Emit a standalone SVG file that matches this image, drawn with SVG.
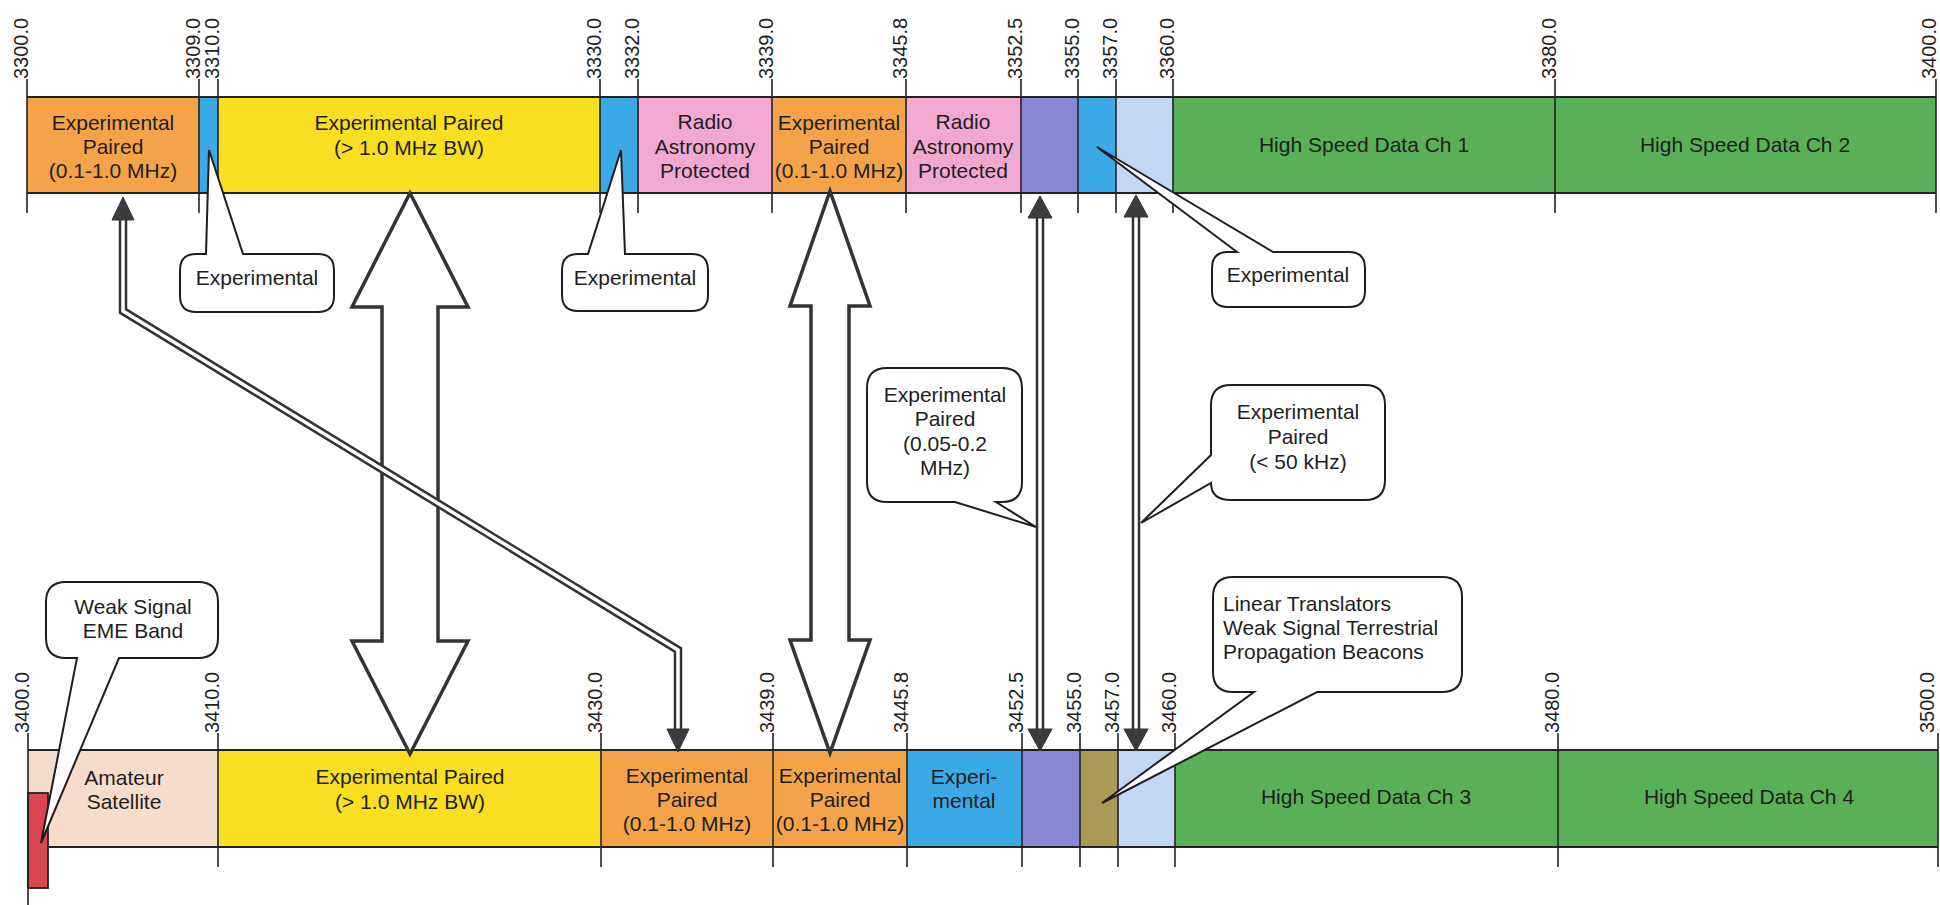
<svg xmlns="http://www.w3.org/2000/svg" width="1940" height="905" viewBox="0 0 1940 905">
<style>
text{font-family:"Liberation Sans",Arial,sans-serif;fill:#1e1e1e}
.lbl{font-size:21px;text-anchor:middle}
.lbll{font-size:21px;text-anchor:start}
.tk{font-size:20px}
.tick{stroke:#222;stroke-width:1.6;fill:none}
.edge{stroke:#222;stroke-width:2.2;fill:none}
.or{fill:#F4A349}.ye{fill:#F8DF22}.bl{fill:#3BA9E6}.pk{fill:#F1A9D0}
.pw{fill:#8887D4}.lb{fill:#C2D7F4}.gr{fill:#5AAF59}.pc{fill:#F6DCCB}.ol{fill:#A99A56}
.bub{fill:#fff;stroke:#1e1e1e;stroke-width:2}
.blk{fill:#fff;stroke:#333;stroke-width:3.5;stroke-linejoin:miter}
.dl-o{fill:none;stroke:#333;stroke-width:8.5;stroke-linejoin:miter}
.dl-i{fill:none;stroke:#fff;stroke-width:3.5;stroke-linejoin:miter}
.head{fill:#3c3c3c;stroke:#333;stroke-width:1}
</style>

<g id="band-top">
<rect class="or" x="27" y="97" width="172" height="96"/>
<rect class="bl" x="199" y="97" width="19" height="96"/>
<rect class="ye" x="218" y="97" width="382" height="96"/>
<rect class="bl" x="600" y="97" width="38" height="96"/>
<rect class="pk" x="638" y="97" width="134" height="96"/>
<rect class="or" x="772" y="97" width="134" height="96"/>
<rect class="pk" x="906" y="97" width="115" height="96"/>
<rect class="pw" x="1021" y="97" width="57" height="96"/>
<rect class="bl" x="1078" y="97" width="38" height="96"/>
<rect class="lb" x="1116" y="97" width="57" height="96"/>
<rect class="gr" x="1173" y="97" width="382" height="96"/>
<rect class="gr" x="1555" y="97" width="381" height="96"/>
<line class="edge" x1="27" y1="97" x2="1936" y2="97"/>
<line class="edge" x1="27" y1="193" x2="1936" y2="193"/>
<text class="lbl" x="113" y="130">Experimental</text>
<text class="lbl" x="113" y="154">Paired</text>
<text class="lbl" x="113" y="178">(0.1-1.0 MHz)</text>
<text class="lbl" x="409" y="130">Experimental Paired</text>
<text class="lbl" x="409" y="155">(&gt; 1.0 MHz BW)</text>
<text class="lbl" x="705" y="129">Radio</text>
<text class="lbl" x="705" y="154">Astronomy</text>
<text class="lbl" x="705" y="178">Protected</text>
<text class="lbl" x="839" y="130">Experimental</text>
<text class="lbl" x="839" y="154">Paired</text>
<text class="lbl" x="839" y="178">(0.1-1.0 MHz)</text>
<text class="lbl" x="963" y="129">Radio</text>
<text class="lbl" x="963" y="154">Astronomy</text>
<text class="lbl" x="963" y="178">Protected</text>
<text class="lbl" x="1364" y="152">High Speed Data Ch 1</text>
<text class="lbl" x="1745" y="152">High Speed Data Ch 2</text>
</g>

<g id="ticks-top">
<path class="tick" d="M27,79V213M199,79V213M218,79V213M600,79V213M638,79V213M772,79V213M906,79V213M1021,79V213M1078,79V213M1116,79V213M1173,79V213M1555,79V213M1936,79V213"/>
<text class="tk" transform="translate(28,79) rotate(-90)">3300.0</text>
<text class="tk" transform="translate(200,79) rotate(-90)">3309.0</text>
<text class="tk" transform="translate(219,79) rotate(-90)">3310.0</text>
<text class="tk" transform="translate(601,79) rotate(-90)">3330.0</text>
<text class="tk" transform="translate(639,79) rotate(-90)">3332.0</text>
<text class="tk" transform="translate(773,79) rotate(-90)">3339.0</text>
<text class="tk" transform="translate(907,79) rotate(-90)">3345.8</text>
<text class="tk" transform="translate(1022,79) rotate(-90)">3352.5</text>
<text class="tk" transform="translate(1079,79) rotate(-90)">3355.0</text>
<text class="tk" transform="translate(1117,79) rotate(-90)">3357.0</text>
<text class="tk" transform="translate(1174,79) rotate(-90)">3360.0</text>
<text class="tk" transform="translate(1556,79) rotate(-90)">3380.0</text>
<text class="tk" transform="translate(1936,79) rotate(-90)">3400.0</text>
</g>

<g id="band-bottom">
<rect class="pc" x="28" y="750" width="190" height="97"/>
<rect class="ye" x="218" y="750" width="383" height="97"/>
<rect class="or" x="601" y="750" width="172" height="97"/>
<rect class="or" x="773" y="750" width="134" height="97"/>
<rect class="bl" x="907" y="750" width="115" height="97"/>
<rect class="pw" x="1022" y="750" width="58" height="97"/>
<rect class="ol" x="1080" y="750" width="38" height="97"/>
<rect class="lb" x="1118" y="750" width="57" height="97"/>
<rect class="gr" x="1175" y="750" width="383" height="97"/>
<rect class="gr" x="1558" y="750" width="380" height="97"/>
<line class="edge" x1="28" y1="750" x2="1938" y2="750"/>
<line class="edge" x1="28" y1="847" x2="1938" y2="847"/>
<text class="lbl" x="124" y="785">Amateur</text>
<text class="lbl" x="124" y="809">Satellite</text>
<text class="lbl" x="410" y="784">Experimental Paired</text>
<text class="lbl" x="410" y="809">(&gt; 1.0 MHz BW)</text>
<text class="lbl" x="687" y="783">Experimental</text>
<text class="lbl" x="687" y="807">Paired</text>
<text class="lbl" x="687" y="831">(0.1-1.0 MHz)</text>
<text class="lbl" x="840" y="783">Experimental</text>
<text class="lbl" x="840" y="807">Paired</text>
<text class="lbl" x="840" y="831">(0.1-1.0 MHz)</text>
<text class="lbl" x="964" y="784">Experi-</text>
<text class="lbl" x="964" y="808">mental</text>
<text class="lbl" x="1366" y="804">High Speed Data Ch 3</text>
<text class="lbl" x="1749" y="804">High Speed Data Ch 4</text>
</g>

<g id="eme-band">
<rect x="28" y="793" width="20" height="95" fill="#D8464F" stroke="#222" stroke-width="1.8"/>
</g>

<g id="ticks-bottom">
<path class="tick" d="M28,733V905M218,733V867M601,733V867M773,733V867M907,733V867M1022,733V867M1080,733V867M1118,733V867M1175,733V867M1558,733V867M1938,733V867"/>
<text class="tk" transform="translate(29,733) rotate(-90)">3400.0</text>
<text class="tk" transform="translate(219,733) rotate(-90)">3410.0</text>
<text class="tk" transform="translate(602,733) rotate(-90)">3430.0</text>
<text class="tk" transform="translate(774,733) rotate(-90)">3439.0</text>
<text class="tk" transform="translate(908,733) rotate(-90)">3445.8</text>
<text class="tk" transform="translate(1023,733) rotate(-90)">3452.5</text>
<text class="tk" transform="translate(1081,733) rotate(-90)">3455.0</text>
<text class="tk" transform="translate(1119,733) rotate(-90)">3457.0</text>
<text class="tk" transform="translate(1176,733) rotate(-90)">3460.0</text>
<text class="tk" transform="translate(1559,733) rotate(-90)">3480.0</text>
<text class="tk" transform="translate(1934,733) rotate(-90)">3500.0</text>
</g>

<g id="connectors">
<path class="blk" d="M410,193 L468,307 L438,307 L438,641 L468,641 L410,754 L352,641 L382,641 L382,307 L352,307 Z"/>
<path class="blk" d="M830,191 L870,306 L849,306 L849,640 L870,640 L830,753 L790,640 L811,640 L811,306 L790,306 Z"/>
<path class="dl-o" d="M123,218 L123,311 L678,650 L678,730"/>
<path class="dl-i" d="M123,218 L123,311 L678,650 L678,730"/>
<path class="head" d="M123,197 L134,220 L112,220 Z"/>
<path class="head" d="M678,752 L689,729 L667,729 Z"/>
<path class="dl-o" d="M1040,216 V731"/>
<path class="dl-i" d="M1040,216 V731"/>
<path class="head" d="M1040,196 L1052,218 L1028,218 Z"/>
<path class="head" d="M1040,751 L1052,729 L1028,729 Z"/>
<path class="dl-o" d="M1136,216 V731"/>
<path class="dl-i" d="M1136,216 V731"/>
<path class="head" d="M1136,195 L1148,217 L1124,217 Z"/>
<path class="head" d="M1136,751 L1148,729 L1124,729 Z"/>
</g>

<g id="callout-exp1">
<path class="bub" d="M196,254 L206,254 L209,150 L243,254 L318,254 Q334,254 334,270 L334,296 Q334,312 318,312 L196,312 Q180,312 180,296 L180,270 Q180,254 196,254 Z"/>
<text class="lbl" x="257" y="285">Experimental</text>
</g>

<g id="callout-exp2">
<path class="bub" d="M578,254 L588,254 L621,150 L625,254 L692,254 Q708,254 708,270 L708,295 Q708,311 692,311 L578,311 Q562,311 562,295 L562,270 Q562,254 578,254 Z"/>
<text class="lbl" x="635" y="285">Experimental</text>
</g>

<g id="callout-exp3">
<path class="bub" d="M1228,252 L1237,252 L1097,147 L1273,252 L1349,252 Q1365,252 1365,268 L1365,291 Q1365,307 1349,307 L1228,307 Q1212,307 1212,291 L1212,268 Q1212,252 1228,252 Z"/>
<text class="lbl" x="1288" y="282">Experimental</text>
</g>

<g id="callout-pair-005">
<path class="bub" d="M887,368 L1002,368 Q1022,368 1022,388 L1022,482 Q1022,502 1002,502 L996,502 L1036,527 L955,502 L887,502 Q867,502 867,482 L867,388 Q867,368 887,368 Z"/>
<text class="lbl" x="945" y="402">Experimental</text>
<text class="lbl" x="945" y="426">Paired</text>
<text class="lbl" x="945" y="451">(0.05-0.2</text>
<text class="lbl" x="945" y="475">MHz)</text>
</g>

<g id="callout-pair-50k">
<path class="bub" d="M1231,385 L1365,385 Q1385,385 1385,405 L1385,480 Q1385,500 1365,500 L1231,500 Q1211,500 1211,483 L1141,523 L1211,455 L1211,405 Q1211,385 1231,385 Z"/>
<text class="lbl" x="1298" y="419">Experimental</text>
<text class="lbl" x="1298" y="444">Paired</text>
<text class="lbl" x="1298" y="469">(&lt; 50 kHz)</text>
</g>

<g id="callout-linear">
<path class="bub" d="M1233,577 L1442,577 Q1462,577 1462,597 L1462,672 Q1462,692 1442,692 L1317,692 L1102,803 L1254,692 L1233,692 Q1213,692 1213,672 L1213,597 Q1213,577 1233,577 Z"/>
<text class="lbll" x="1223" y="611">Linear Translators</text>
<text class="lbll" x="1223" y="635">Weak Signal Terrestrial</text>
<text class="lbll" x="1223" y="659">Propagation Beacons</text>
</g>

<g id="callout-eme">
<path class="bub" d="M66,582 L198,582 Q218,582 218,602 L218,638 Q218,658 198,658 L119,658 L41,843 L77,658 L66,658 Q46,658 46,638 L46,602 Q46,582 66,582 Z"/>
<text class="lbl" x="133" y="614">Weak Signal</text>
<text class="lbl" x="133" y="638">EME Band</text>
</g>
</svg>
